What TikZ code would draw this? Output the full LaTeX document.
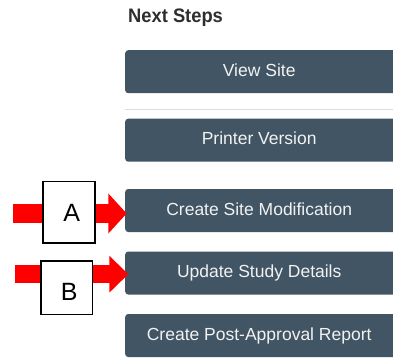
\documentclass[tikz,border=0pt]{standalone}
\usepackage{fontspec}
\setmainfont{Liberation Sans}
\newfontfamily\titlefont[FakeStretch=0.94]{Liberation Sans}
\usetikzlibrary{arrows.meta}
\definecolor{btnfill}{HTML}{415564}
\definecolor{btntext}{HTML}{F2F2F2}
\definecolor{sepgray}{HTML}{DCDCDC}
\definecolor{titlecol}{HTML}{2E2E2E}
\newcommand\btnlabel[1]{\makebox[268pt]{#1}\hspace*{14pt}}
\tikzset{
  button/.style={anchor=west, fill=btnfill, text=btntext, rounded corners=3pt,
    inner xsep=0pt, inner ysep=0pt, minimum height=43pt, text height=12.5pt, text depth=3pt,
    font=\fontsize{17.5}{20}\selectfont},
  letterbox/.style={draw=black, line width=1.8pt, fill=white, inner sep=0pt,
    font=\fontsize{25}{28}\selectfont, text depth=0pt},
  blockarrow/.style={draw=red, line width=18.4pt}
}
\begin{document}
\begin{tikzpicture}[x=1pt,y=-1pt]
\useasboundingbox (0,0) rectangle (393,358);
% title
\node[anchor=base west, inner sep=0pt, text=titlecol, font=\titlefont\bfseries\fontsize{19.5}{22}\selectfont] (title) at (128,23) {Next Steps};
% buttons
\node[button] (btnView) at (125,71.7) {\btnlabel{View Site}};
\draw[sepgray, line width=1.5pt] (125,109.5) -- (400,109.5);
\node[button] (btnPrint) at (125,140.2) {\btnlabel{Printer Version}};
\node[button] (btnA) at (125,210.5) {\btnlabel{Create Site Modification}};
\node[button] (btnB) at (125,273) {\btnlabel{Update Study Details}};
\node[button] (btnPost) at (125,335.5) {\btnlabel{Create Post-Approval Report}};
% arrows
\coordinate (aS) at (13.3,213.5);
\coordinate (aE) at (126.7,213.5);
\coordinate (bS) at (15,274.2);
\coordinate (bE) at (128.3,274.2);
\draw[blockarrow, -{Triangle[length=18.4pt 0 0, width=39pt 0 0]}] (aS) -- (aE);
\draw[blockarrow, line width=18.3pt, -{Triangle[length=19pt 0 0, width=35.7pt 0 0]}] (bS) -- (bE);
% letter boxes
\node[letterbox, minimum width=52.2pt, minimum height=61.5pt, text height=17.9pt] (boxA) at (68.7,212.3) {\hspace*{6pt}A};
\node[letterbox, minimum width=51.2pt, minimum height=53.5pt, text height=25.9pt] (boxB) at (66.8,287.7) {\hspace*{5pt}B};
\end{tikzpicture}
\end{document}
